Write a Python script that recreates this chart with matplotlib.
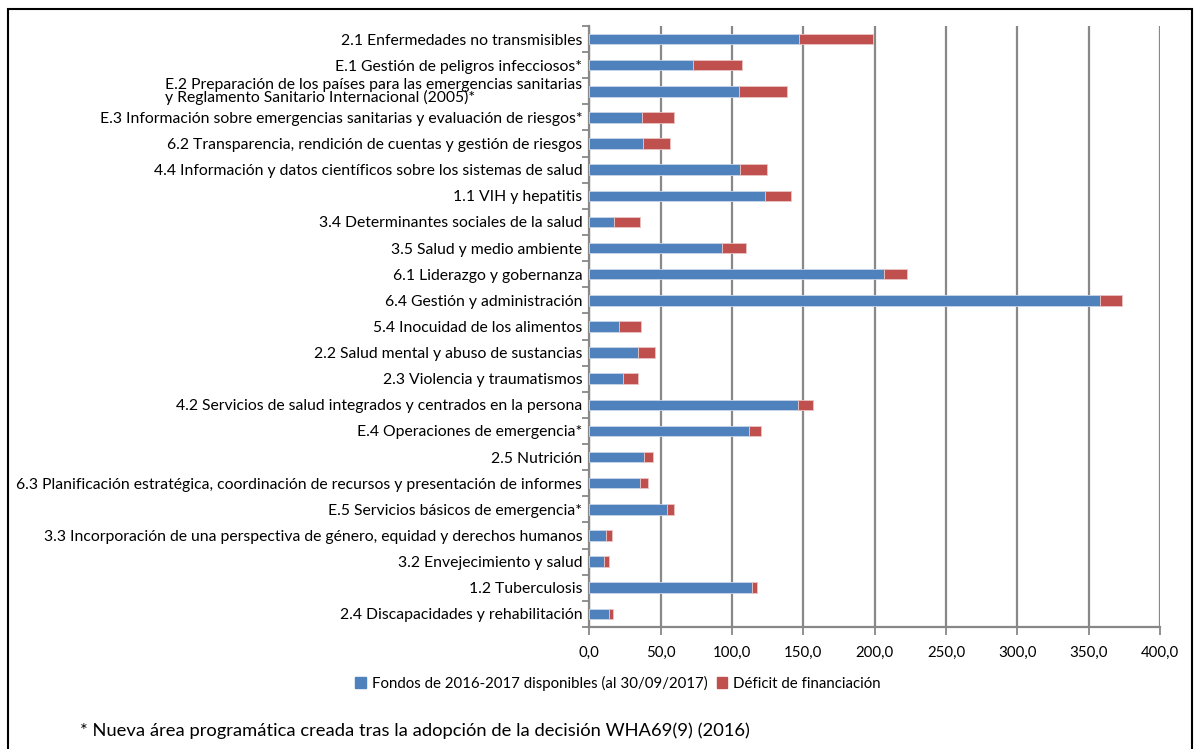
import matplotlib.pyplot as plt
import matplotlib.patches as mpatches
import numpy as np

# Program areas, top to bottom as shown
categories = [
    '2.1 Enfermedades no transmisibles',
    'E.1 Gestión de peligros infecciosos*',
    'E.2 Preparación de los países para las emergencias sanitarias\ny Reglamento Sanitario Internacional (2005)*',
    'E.3 Información sobre emergencias sanitarias y evaluación de riesgos*',
    '6.2 Transparencia, rendición de cuentas y gestión de riesgos',
    '4.4 Información y datos científicos sobre los sistemas de salud',
    '1.1 VIH y hepatitis',
    '3.4 Determinantes sociales de la salud',
    '3.5 Salud y medio ambiente',
    '6.1 Liderazgo y gobernanza',
    '6.4 Gestión y administración',
    '5.4 Inocuidad de los alimentos',
    '2.2 Salud mental y abuso de sustancias',
    '2.3 Violencia y traumatismos',
    '4.2 Servicios de salud integrados y centrados en la persona',
    'E.4 Operaciones de emergencia*',
    '2.5 Nutrición',
    '6.3 Planificación estratégica, coordinación de recursos y presentación de informes',
    'E.5 Servicios básicos de emergencia*',
    '3.3 Incorporación de una perspectiva de género, equidad y derechos humanos',
    '3.2 Envejecimiento y salud',
    '1.2 Tuberculosis',
    '2.4 Discapacidades y rehabilitación',
]
fondos = [147.2, 73.0, 105.3, 36.8, 37.5, 105.5, 123.1, 17.6, 92.9, 206.3, 357.9,
          20.6, 34.4, 23.4, 146.0, 111.9, 38.2, 35.8, 54.3, 11.5, 10.1, 114.4, 13.8]
deficit = [51.7, 34.2, 33.2, 22.9, 19.4, 19.0, 18.4, 18.0, 17.1, 16.7, 15.7,
           15.5, 11.5, 11.0, 10.8, 8.8, 6.3, 5.4, 5.1, 4.7, 3.5, 3.3, 2.8]
xticks = [0, 50, 100, 150, 200, 250, 300, 350, 400]

blue = '#4F81BD'
red = '#C0504D'
grid_gray = '#888888'

plt.rcParams['font.family'] = ['Lato', 'DejaVu Sans']

fig = plt.figure(figsize=(12, 7.49), dpi=100)
ax = fig.add_axes([0.491, 0.163, 0.4757, 0.8023])

y = np.arange(len(categories))
ax.barh(y, fondos, height=0.4, color=blue, edgecolor='#c9d6ea', linewidth=0.6, zorder=3)
ax.barh(y, deficit, left=fondos, height=0.4, color=red, edgecolor='#e8c4c3', linewidth=0.6, zorder=3)

ax.set_xlim(0, 400)
ax.set_ylim(len(categories) - 0.5, -0.5)
ax.set_xticks(xticks)
ax.set_xticklabels([f'{v:.1f}'.replace('.', ',') for v in xticks], fontsize=10.8)
ax.xaxis.grid(True, color=grid_gray, linewidth=1.6, zorder=0)

ax.set_yticks(y)
ax.set_yticklabels(categories, fontsize=11.3, linespacing=0.82)
for lbl in ax.get_yticklabels():
    if lbl.get_text().startswith('E.2'):
        lbl.set_multialignment('left')
ax.set_yticks(np.arange(len(categories) + 1) - 0.5, minor=True)
ax.tick_params(axis='y', which='major', length=0, pad=5)
ax.tick_params(axis='y', which='minor', length=5, width=1.3, color=grid_gray, direction='out')
ax.tick_params(axis='x', length=6, width=1.3, color=grid_gray, direction='out', pad=8)

for side in ['top', 'right']:
    ax.spines[side].set_visible(False)
for side in ['left', 'bottom']:
    ax.spines[side].set_color(grid_gray)
    ax.spines[side].set_linewidth(1.6)

handles = [mpatches.Patch(color=blue, label='Fondos de 2016-2017 disponibles (al 30/09/2017)'),
           mpatches.Patch(color=red, label='Déficit de financiación')]
fig.legend(handles=handles, loc='center', bbox_to_anchor=(0.515, 0.088), ncol=2,
           frameon=False, fontsize=10.8, handlelength=0.7, handleheight=0.7,
           handletextpad=0.4, columnspacing=0.6)

fig.text(0.067, 0.025, '* Nueva área programática creada tras la adopción de la decisión WHA69(9) (2016)',
         fontsize=13.2, ha='left', va='center')

# Outer frame
fig.patches.append(mpatches.Rectangle((0.0065, -0.01), 0.987, 0.998,
                                      transform=fig.transFigure, fill=False,
                                      edgecolor='black', linewidth=1.5))

fig.savefig('out.png', dpi=100, facecolor='white')
